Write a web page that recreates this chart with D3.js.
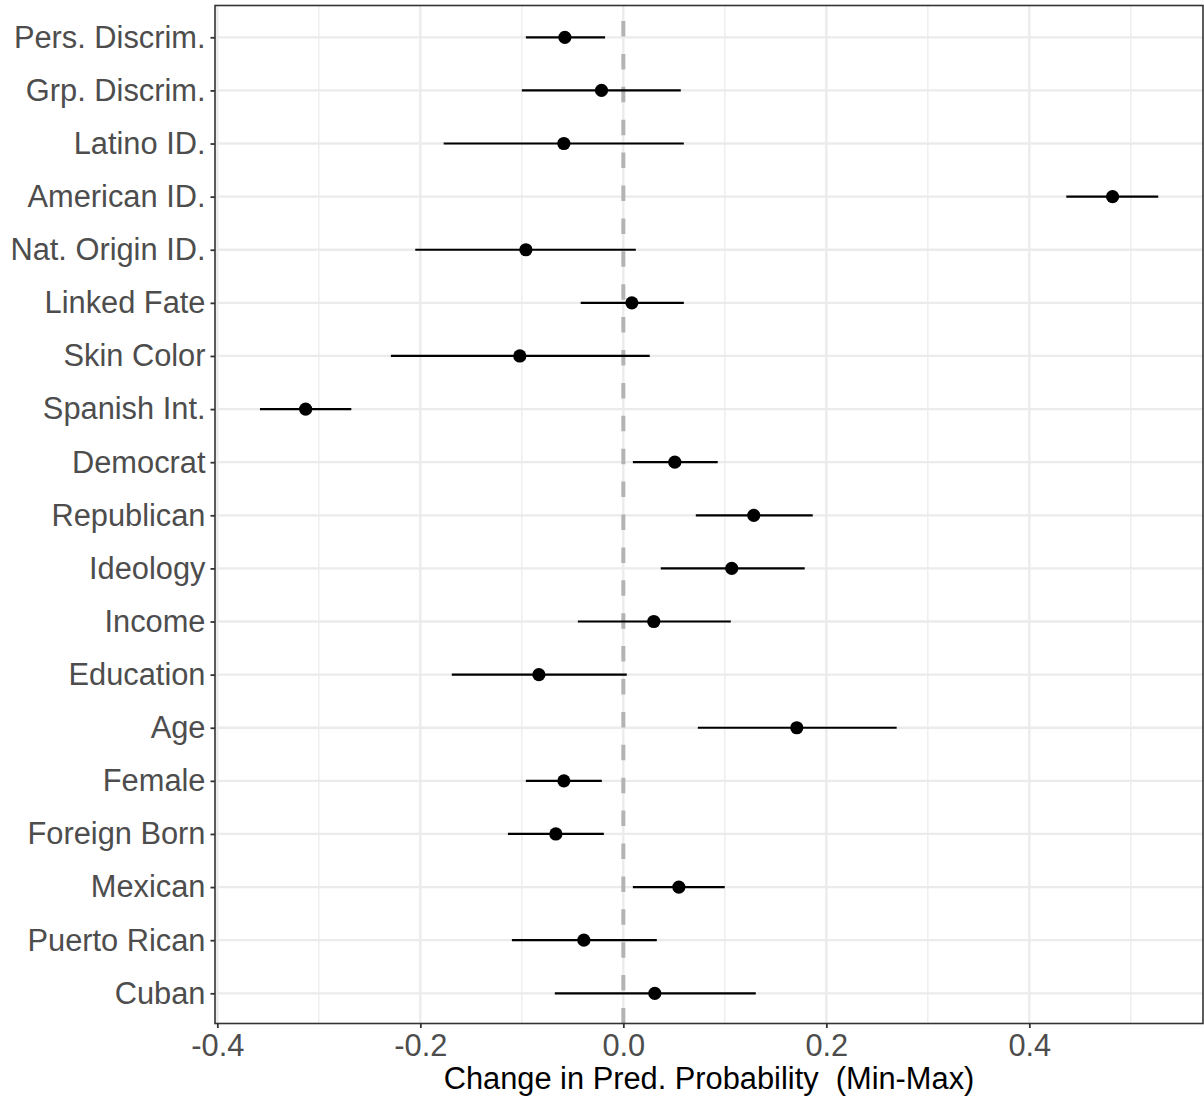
<!DOCTYPE html>
<html>
<head>
<meta charset="utf-8">
<script src="https://cdn.jsdelivr.net/npm/d3@7"></script>
<style>
  html, body { margin: 0; padding: 0; background: #fff; }
  svg { display: block; font-family: "Liberation Sans", Arial, sans-serif; }
</style>
</head>
<body>
<svg id="chart" width="1204" height="1101"></svg>
<script>
const categories = ["Pers. Discrim.", "Grp. Discrim.", "Latino ID.", "American ID.", "Nat. Origin ID.",
  "Linked Fate", "Skin Color", "Spanish Int.", "Democrat", "Republican", "Ideology", "Income",
  "Education", "Age", "Female", "Foreign Born", "Mexican", "Puerto Rican", "Cuban"];
const estimates = [-0.0576, -0.0215, -0.0586, 0.482, -0.096, 0.0084, -0.102, -0.313, 0.0507, 0.1285,
  0.1068, 0.030, -0.0832, 0.1709, -0.0586, -0.0665, 0.0547, -0.0389, 0.031];
const lower = [-0.096, -0.100, -0.177, 0.4364, -0.205, -0.042, -0.229, -0.358, 0.0094, 0.0714,
  0.0369, -0.0448, -0.169, 0.0734, -0.096, -0.1137, 0.0094, -0.1098, -0.0675];
const upper = [-0.018, 0.0566, 0.0596, 0.527, 0.0123, 0.0596, 0.026, -0.268, 0.093, 0.1866,
  0.1787, 0.1059, 0.0034, 0.2693, -0.0212, -0.0192, 0.0999, 0.033, 0.1305];
const xTicks = [-0.4, -0.2, 0.0, 0.2, 0.4];
const xMinor = [-0.3, -0.1, 0.1, 0.3, 0.5];
const xTitle = "Change in Pred. Probability  (Min-Max)";

const data = categories.map((c, i) => ({ cat: c, est: estimates[i], lo: lower[i], hi: upper[i] }));

const panel = { left: 215, right: 1203, top: 5.5, bottom: 1023.5 };
const svg = d3.select("#chart");
const FS = 30.8;

const x = d3.scaleLinear().domain([-0.4023, 0.5711]).range([panel.left, panel.right]);
const y = d3.scalePoint().domain(categories).range([37.3, 993.3]).padding(0);

// grid
const g = svg.append("g");
g.selectAll("line.minor").data(xMinor).join("line")
  .attr("x1", d => x(d)).attr("x2", d => x(d))
  .attr("y1", panel.top).attr("y2", panel.bottom)
  .attr("stroke", "#EBEBEB").attr("stroke-width", 1.2);
g.selectAll("line.majorx").data(xTicks).join("line")
  .attr("x1", d => x(d)).attr("x2", d => x(d))
  .attr("y1", panel.top).attr("y2", panel.bottom)
  .attr("stroke", "#EBEBEB").attr("stroke-width", 2.3);
g.selectAll("line.majory").data(categories).join("line")
  .attr("x1", panel.left).attr("x2", panel.right)
  .attr("y1", d => y(d)).attr("y2", d => y(d))
  .attr("stroke", "#EBEBEB").attr("stroke-width", 2.3);

// zero line
svg.append("line")
  .attr("x1", x(0)).attr("x2", x(0))
  .attr("y1", panel.bottom).attr("y2", panel.top)
  .attr("stroke", "#B3B3B3").attr("stroke-width", 4)
  .attr("stroke-dasharray", "15.5,17.4");

// error bars
svg.append("g").selectAll("line").data(data).join("line")
  .attr("x1", d => x(d.lo)).attr("x2", d => x(d.hi))
  .attr("y1", d => y(d.cat)).attr("y2", d => y(d.cat))
  .attr("stroke", "#000").attr("stroke-width", 2.2);

// points
svg.append("g").selectAll("circle").data(data).join("circle")
  .attr("cx", d => x(d.est)).attr("cy", d => y(d.cat)).attr("r", 6.6)
  .attr("fill", "#000");

// panel border
svg.append("rect")
  .attr("x", panel.left).attr("y", panel.top)
  .attr("width", panel.right - panel.left).attr("height", panel.bottom - panel.top)
  .attr("fill", "none").attr("stroke", "#333333").attr("stroke-width", 1.6);

// x axis
const xAxis = d3.axisBottom(x).tickValues(xTicks).tickSize(4.5).tickPadding(6);
const gx = svg.append("g").attr("transform", `translate(0,${panel.bottom})`).call(xAxis);
gx.select(".domain").remove();
gx.selectAll(".tick line").attr("stroke", "#333333").attr("stroke-width", 1.8);
gx.selectAll(".tick text").attr("fill", "#4D4D4D").attr("font-size", FS)
  .attr("font-family", "Liberation Sans, Arial, sans-serif").attr("dy", "0.71em")
  .text(d => d3.format(".1f")(d).replace("−", "-"));

// y axis
const yAxis = d3.axisLeft(y).tickSize(4.5).tickPadding(5);
const gy = svg.append("g").attr("transform", `translate(${panel.left},0)`).call(yAxis);
gy.select(".domain").remove();
gy.selectAll(".tick line").attr("stroke", "#333333").attr("stroke-width", 1.8);
gy.selectAll(".tick text").attr("fill", "#4D4D4D").attr("font-size", FS)
  .attr("font-family", "Liberation Sans, Arial, sans-serif");

// x title
svg.append("text")
  .attr("x", (panel.left + panel.right) / 2).attr("y", 1089)
  .attr("text-anchor", "middle").attr("font-size", FS).attr("fill", "#000")
  .style("white-space", "pre").attr("xml:space", "preserve")
  .text(xTitle);
</script>
</body>
</html>
